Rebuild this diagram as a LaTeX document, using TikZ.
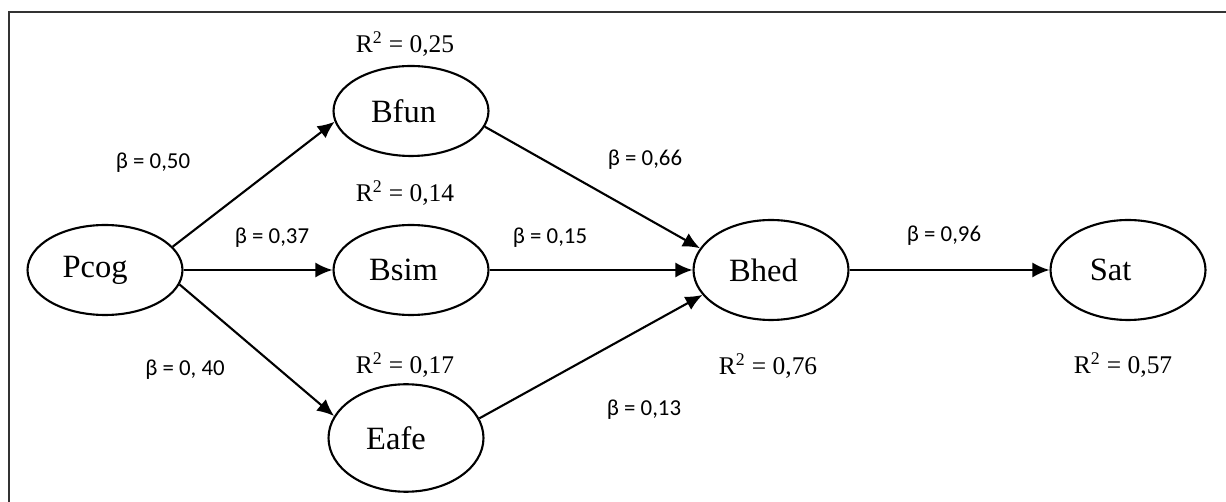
\documentclass[tikz,border=0pt]{standalone}
\usepackage{fontspec}
\setmainfont{Liberation Serif}
\newfontfamily\coeffont{Carlito}
\usetikzlibrary{shapes.geometric,arrows.meta}

\begin{document}
\begin{tikzpicture}[x=0.02cm, y=-0.02cm, line width=1.2pt,
  construct/.style={draw, ellipse, minimum width=3.1cm, minimum height=1.8cm, inner sep=0pt, font=\fontsize{18.5}{21}\selectfont},
  rsq/.style={font=\fontsize{14.5}{17}\selectfont},
  coef/.style={font=\coeffont\fontsize{13}{15}\selectfont},
  link/.style={-{Latex[length=3.4mm,width=3mm]}}]
  \useasboundingbox (0,0) rectangle (1226,502);
  \draw[line width=1.5pt, black!80] (9,502) -- (9,12) -- (1226,12);

  % constructs
  \node[construct] (pcog) at (105,270) {Pcog\hspace*{4mm}};
  \node[construct] (bfun) at (411,111) {Bfun\hspace*{3mm}};
  \node[construct] (bsim) at (411,270) {Bsim\hspace*{3mm}};
  \node[construct, minimum height=2.15cm] (eafe) at (406,438) {Eafe\hspace*{4mm}};
  \node[construct, minimum height=2cm] (bhed) at (771,270) {Bhed\hspace*{3mm}};
  \node[construct, minimum height=2cm] (sat) at (1128,270) {Sat\hspace*{7mm}};

  % explained variance
  \node[rsq] (r2bfun) at (405,44) {R\textsuperscript{2} = 0,25};
  \node[rsq] (r2bsim) at (405,193) {R\textsuperscript{2} = 0,14};
  \node[rsq] (r2eafe) at (405,365) {R\textsuperscript{2} = 0,17};
  \node[rsq] (r2bhed) at (768,366) {R\textsuperscript{2} = 0,76};
  \node[rsq] (r2sat) at (1123,365) {R\textsuperscript{2} = 0,57};

  % paths
  \draw[link] (pcog.19) -- (bfun.188);
  \draw[link] (pcog.east) -- (bsim.west);
  \draw[link] (pcog.-11) -- (eafe.163);
  \draw[link] (bfun.-12) -- (bhed.163);
  \draw[link] (bsim.east) -- (bhed.west);
  \draw[link] (eafe.15) -- (bhed.200);
  \draw[link] (bhed.east) -- (sat.west);

  \node[coef] (b1) at (153,163) {β = 0,50};
  \node[coef] (b2) at (272,238) {β = 0,37};
  \node[coef] (b3) at (185,370) {β = 0, 40};
  \node[coef] (b4) at (645,160) {β = 0,66};
  \node[coef] (b5) at (550,238) {β = 0,15};
  \node[coef] (b6) at (644,410) {β = 0,13};
  \node[coef] (b7) at (944,236) {β = 0,96};
\end{tikzpicture}
\end{document}
